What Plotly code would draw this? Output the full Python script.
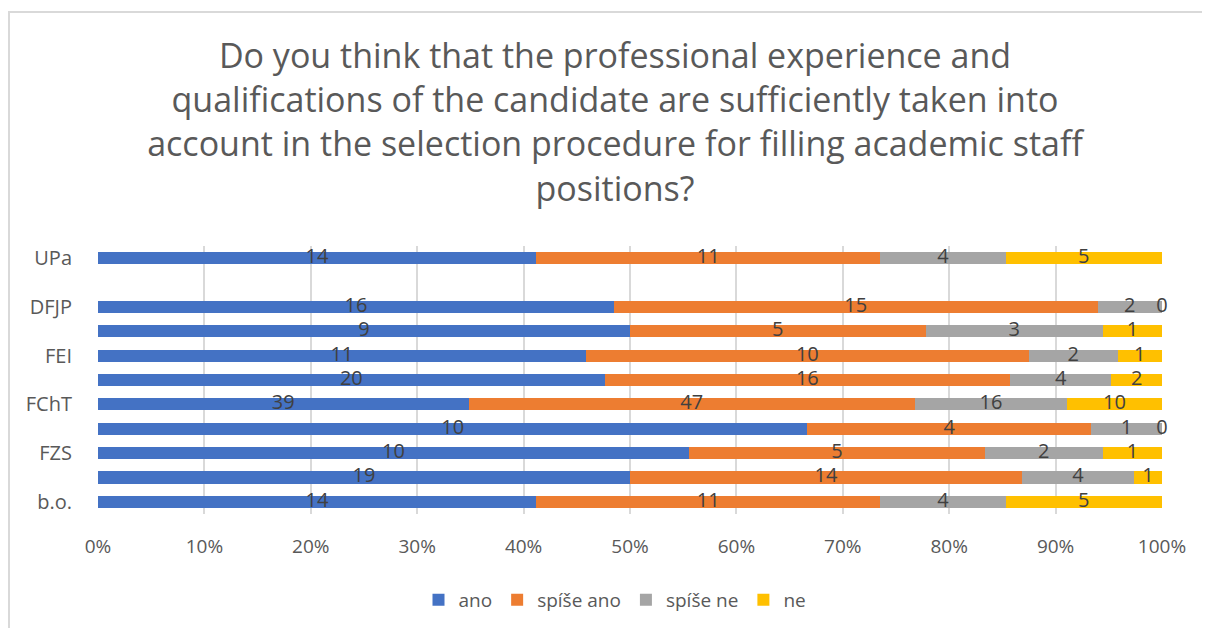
import plotly.graph_objects as go

# Categories bottom to top ("" = unlabeled category, None = empty slot)
categories = ["b.o.", "", "FZS", "", "FChT", "", "FEI", "", "DFJP", None, "UPa"]
ano       = [14, 19, 10, 10, 39, 20, 11, 9, 16, None, 14]
spise_ano = [11, 14, 5, 4, 47, 16, 10, 5, 15, None, 11]
spise_ne  = [4, 4, 2, 1, 16, 4, 2, 3, 2, None, 4]
ne        = [5, 1, 1, 0, 10, 2, 1, 1, 0, None, 5]

series_names = ["ano", "spíše ano", "spíše ne", "ne"]
series = [ano, spise_ano, spise_ne, ne]
colors = ["#4472C4", "#ED7D31", "#A5A5A5", "#FFC000"]
x_ticks = [0, 10, 20, 30, 40, 50, 60, 70, 80, 90, 100]

pos = list(range(len(categories)))
valid = [i for i in pos if ano[i] is not None]
totals = {i: sum(s[i] for s in series) for i in valid}

fig = go.Figure()
cum = {i: 0.0 for i in valid}
text_x, text_y, text_t = [], [], []
for name, vals, col in zip(series_names, series, colors):
    ys, xs = [], []
    for i in valid:
        pct = vals[i] / totals[i] * 100
        ys.append(i)
        xs.append(pct)
        text_x.append(cum[i] + pct / 2)
        text_y.append(i)
        text_t.append(str(vals[i]))
        cum[i] += pct
    fig.add_trace(go.Bar(y=ys, x=xs, name=name, orientation="h",
                         marker=dict(color=col, line=dict(width=0)),
                         hoverinfo="skip"))

fig.add_trace(go.Scatter(x=text_x, y=text_y, text=text_t, mode="text",
                         textfont=dict(size=20, color="#404040", family="Open Sans"),
                         showlegend=False, cliponaxis=False, hoverinfo="skip"))

tickvals = [i for i in pos if categories[i]]
ticktext = [categories[i] for i in tickvals]

L, R, T, B = 90, 56, 238, 122
W, H = 1210, 628
pw, ph = W - L - R, H - T - B

fig.update_layout(
    width=W, height=H,
    barmode="stack", bargap=0.5,
    plot_bgcolor="white", paper_bgcolor="white",
    margin=dict(l=L, r=R, t=T, b=B),
    font=dict(family="Open Sans", color="#595959"),
    title=dict(
        text="Do you think that the professional experience and<br>qualifications of the candidate are sufficiently taken into<br>account in the selection procedure for filling academic staff<br>positions?",
        x=607 / W, xref="container", xanchor="center",
        y=1 - 60 / H, yref="container", yanchor="middle",
        font=dict(size=34, color="#595959", family="Open Sans"),
    ),
    xaxis=dict(range=[0, 100], tickvals=x_ticks,
               ticktext=[f"{v}%" for v in x_ticks],
               showgrid=True, gridcolor="#d9d9d9", gridwidth=1.5,
               zeroline=False, showline=False,
               tickfont=dict(size=19, color="#595959"), ticks="",
               ticklabelstandoff=19),
    yaxis=dict(range=[-0.5, 10.5], tickvals=tickvals, ticktext=ticktext,
               showgrid=False, zeroline=False, showline=False,
               tickfont=dict(size=20, color="#595959"), ticks="",
               ticklabelstandoff=25),
    legend=dict(orientation="h", x=607 / W, xref="container", xanchor="center",
                y=1 - 592 / H, yref="container", yanchor="middle",
                font=dict(size=19, color="#595959"), traceorder="normal",
                itemwidth=30),
    showlegend=True,
)

fig.add_shape(type="rect", xref="paper", yref="paper",
              x0=-(L - 1) / pw, x1=1 + (R + 10) / pw,
              y0=-(B + 10) / ph, y1=1 + (T - 4) / ph,
              line=dict(color="#d9d9d9", width=2), fillcolor="rgba(0,0,0,0)",
              layer="below")

fig.write_html("out.html")
